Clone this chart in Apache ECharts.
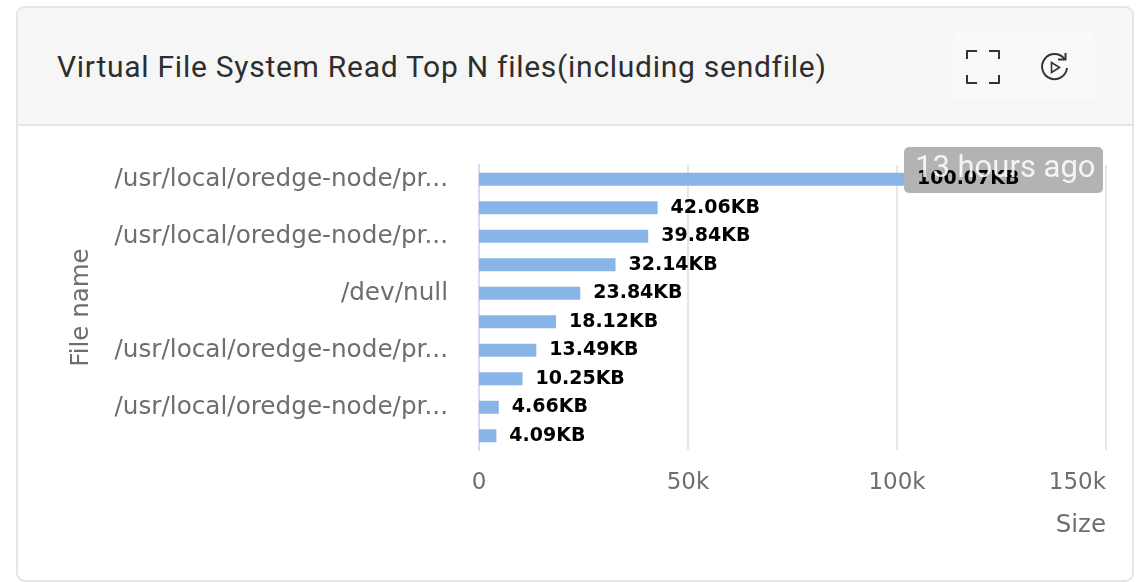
<!DOCTYPE html>
<html>
<head>
<meta charset="utf-8">
<style>
    html, body { margin: 0; padding: 0; background: #fff; overflow: hidden; }
    .card { position: absolute; left: 16px; top: 6px; width: 1118px; height: 576px; box-sizing: border-box;
        border: 2px solid #e5e5e5; border-radius: 9px; overflow: hidden; }
    .head { position: absolute; left: 0; top: 0; right: 0; height: 116px; background: #f6f6f6; border-bottom: 2px solid #e5e5e5; }
    .title { position: absolute; left: 39px; top: 41px; font: 30px/36px Roboto, sans-serif; color: #2e2e2e; letter-spacing: .73px; white-space: nowrap; }
    .btns { position: absolute; left: 935px; top: 24px; width: 142px; height: 68px; background: #f8f9fa; border-radius: 6px; }
    .btns svg { position: absolute; }
    #main { position: absolute; left: 0; top: 0; width: 1145px; height: 582px; }
</style>
</head>
<body>
<div class="card">
    <div class="head">
        <div class="title">Virtual File System Read Top N files(including sendfile)</div>
        <div class="btns">
            <svg style="left:11px;top:16px" width="38" height="38" viewBox="0 0 38 38" fill="none" stroke="#333" stroke-width="2" stroke-linejoin="round">
                <path d="M3 11V3h10M25 3h10v8M3 27v8h10M25 35h10v-8"/>
            </svg>
            <svg style="left:85px;top:19px" width="34" height="34" viewBox="0 0 34 34" fill="none" stroke="#333" stroke-width="2">
                <path d="M26.5 8A12.5 12.5 0 1 0 29 17"/>
                <path d="M20 8.5h7.5V2"/>
                <path d="M13.5 11.5v10l8-5z" stroke-width="1.6"/>
            </svg>
        </div>
    </div>
</div>
<div id="main"></div>
<script src="https://cdn.jsdelivr.net/npm/echarts@6/dist/echarts.min.js"></script>
<script>
    // 文件名 (labels were cut off in the chart)
    const fileNames = [
        '/usr/local/oredge-node/pr...', '/usr/local/oredge-node/pr...',
        '/usr/local/oredge-node/pr...', '/usr/local/oredge-node/pr...',
        '/dev/null', '/usr/local/oredge-node/pr...',
        '/usr/local/oredge-node/pr...', '/usr/local/oredge-node/pr...',
        '/usr/local/oredge-node/pr...', '/usr/local/oredge-node/pr...'
    ];
    const sizeKB = [100.07, 42.06, 39.84, 32.14, 23.84, 18.12, 13.49, 10.25, 4.66, 4.09];
    const sizeTicks = [0, 50000, 100000, 150000];
    const badgeText = '13 hours ago';
    // bar lengths in the picture work out to about this many units per KB
    const unitsPerKB = 1016;

    const labelFont = 'Lucida Grande, DejaVu Sans, sans-serif';

    let myChart = echarts.init(document.getElementById('main'));
    let opt = {
        animation: false,
        grid: { left: 479, right: 39, top: 165, bottom: 132 },
        xAxis: {
            type: 'value',
            min: sizeTicks[0],
            max: sizeTicks[sizeTicks.length - 1],
            interval: sizeTicks[1],
            name: 'Size',
            nameLocation: 'end',
            nameGap: 0,
            nameTextStyle: {
                color: '#6e6e6e', fontSize: 24.5, fontFamily: labelFont,
                align: 'right', verticalAlign: 'top', padding: [63, 0, 0, 0]
            },
            axisLine: { show: false },
            axisTick: { show: false },
            splitLine: { lineStyle: { color: '#e4e6ec', width: 2 } },
            axisLabel: {
                color: '#6e6e6e', fontSize: 23, fontFamily: labelFont, margin: 22,
                alignMaxLabel: 'right',
                formatter: v => v === 0 ? '0' : (v / 1000) + 'k'
            }
        },
        yAxis: {
            type: 'category',
            inverse: true,
            data: fileNames,
            name: 'File name',
            nameLocation: 'middle',
            nameGap: 385,
            nameTextStyle: { color: '#6e6e6e', fontSize: 24.5, fontFamily: labelFont },
            axisLine: { lineStyle: { color: '#d5dcee', width: 2 } },
            axisTick: { show: false },
            axisLabel: {
                interval: 1, color: '#6e6e6e', fontSize: 24.7, fontFamily: labelFont, margin: 31,
                padding: [10, 0, 0, 0]
            }
        },
        series: [{
            type: 'bar',
            barWidth: 13,
            itemStyle: { color: '#89b4e8' },
            label: {
                show: true,
                position: 'right',
                distance: 13,
                padding: [2, 0, 0, 0],
                color: '#000',
                fontSize: 19,
                fontWeight: 'bold',
                fontFamily: labelFont,
                formatter: p => (p.value / unitsPerKB).toFixed(2) + 'KB'
            },
            data: sizeKB.map(v => v * unitsPerKB)
        }],
        graphic: [{
            type: 'rect', z: 1,
            shape: { x: 904, y: 147, width: 199, height: 46, r: 5 },
            style: { fill: '#b3b3b3' }
        }, {
            type: 'text', z: 100, x: 915, y: 154,
            style: { text: badgeText, fill: '#fff', font: '31px Roboto, sans-serif', opacity: .85 }
        }]
    };
    myChart.setOption(opt);
</script>
</body>
</html>
